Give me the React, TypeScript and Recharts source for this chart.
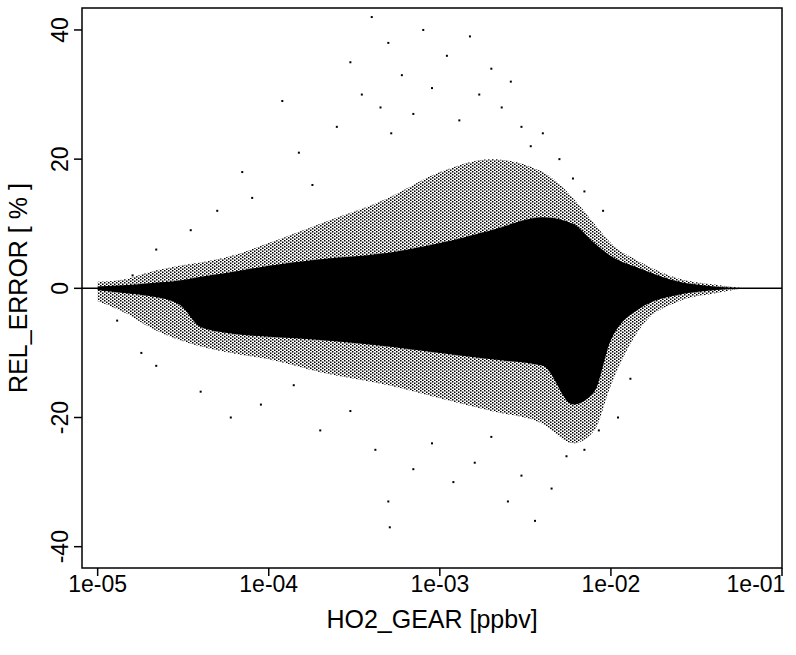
import React from "react";
import {
  ComposedChart, Area, Scatter, XAxis, YAxis, ReferenceLine, Label,
} from "recharts";

const ENV_X = [1.0e-5, 1.5e-5, 2e-5, 3e-5, 4e-5, 6e-5, 1e-4, 2e-4, 5e-4, 1e-3, 2e-3, 4e-3, 6e-3, 8e-3, 1e-2, 1.5e-2, 2.5e-2, 4e-2, 6e-2];
// solid core of the cloud
const CORE_LOW = [-0.3, -0.8, -1.2, -2.5, -6, -7, -7.5, -8, -9, -10, -11, -12, -18, -16, -8, -3, -1, -0.3, 0];
const CORE_HIGH = [0.3, 0.5, 0.8, 1.2, 1.8, 2.5, 3.5, 4.5, 5.5, 7, 9, 11, 10, 7, 5, 3, 1, 0.3, 0];
// speckled halo around the core
const HALO_LOW = [-2, -4, -6, -8, -9, -10, -11, -13, -15, -17, -19, -21, -24, -22, -15, -6, -2, -0.8, 0];
const HALO_HIGH = [1, 1.5, 2.5, 3.5, 4, 5, 7, 10, 14, 18, 20, 18, 14, 10, 7, 4, 1.5, 0.6, 0];

// isolated outliers
const OUT_X = [1.3e-5, 1.8e-5, 2.2e-5, 1.6e-5, 3.5e-5, 5e-5, 7e-5, 8e-5, 1.2e-4, 1.5e-4, 1.8e-4, 2.5e-4, 3e-4, 3.5e-4, 4e-4, 4.5e-4, 5e-4, 5.2e-4, 6e-4, 7e-4, 8e-4, 9e-4, 1.1e-3, 1.3e-3, 1.5e-3, 1.7e-3, 2e-3, 2.3e-3, 2.6e-3, 3e-3, 3.4e-3, 4e-3, 5e-3, 6e-3, 7e-3, 9e-3, 2.2e-5, 4e-5, 6e-5, 9e-5, 1.4e-4, 2e-4, 3e-4, 4.2e-4, 5e-4, 5.1e-4, 7e-4, 9e-4, 1.2e-3, 1.6e-3, 2e-3, 2.5e-3, 3e-3, 3.6e-3, 4.5e-3, 5.5e-3, 7e-3, 8.5e-3, 1.1e-2, 1.3e-2];
const OUT_Y = [-5, -10, 6, 2, 9, 12, 18, 14, 29, 21, 16, 25, 35, 30, 42, 28, 38, 24, 33, 27, 40, 31, 36, 26, 39, 30, 34, 28, 32, 25, 22, 24, 20, 17, 15, 12, -12, -16, -20, -18, -15, -22, -19, -25, -33, -37, -28, -24, -30, -27, -23, -33, -29, -36, -31, -26, -25, -22, -20, -14];

const cloud = ENV_X.map((x, i) => ({
  x,
  core: [CORE_LOW[i], CORE_HIGH[i]],
  halo: [HALO_LOW[i], HALO_HIGH[i]],
}));
const outliers = OUT_X.map((x, i) => ({ x, y: OUT_Y[i] }));

const X_TICKS = [1e-5, 1e-4, 1e-3, 1e-2, 1e-1];
const X_LABELS = ["1e-05", "1e-04", "1e-03", "1e-02", "1e-01"];
const Y_TICKS = [-40, -20, 0, 20, 40];

const FONT = "'Liberation Sans', Arial, sans-serif";

function XTick({ x, y, payload }: any) {
  const i = X_TICKS.indexOf(payload.value);
  // the last label is pulled in so it stays inside the picture
  const dx = i === X_TICKS.length - 1 ? -26 : 0;
  return (
    <text x={x + dx} y={y + 14} textAnchor="middle" fontSize={23} fontFamily={FONT} fill="#000">
      {X_LABELS[i]}
    </text>
  );
}

function YTick({ x, y, payload }: any) {
  return (
    <text x={x - 4} y={y} transform={`rotate(-90 ${x - 4} ${y})`} textAnchor="middle"
      fontSize={23} fontFamily={FONT} fill="#000">
      {payload.value}
    </text>
  );
}

function Dot({ cx, cy }: any) {
  return <rect x={cx - 1} y={cy - 1} width={2} height={2} fill="#000" />;
}

export default function App() {
  return (
    <div style={{ position: "absolute", left: 0, top: 0, background: "#fff" }}>
      <ComposedChart width={796} height={655} data={cloud}
        margin={{ top: 8, right: 14, bottom: 57, left: 0 }}>
        <defs>
          <pattern id="speck" width="4" height="3" patternUnits="userSpaceOnUse">
            <rect x="0" y="0" width="1.5" height="1.5" fill="#000" />
            <rect x="2" y="1.5" width="1.5" height="1.5" fill="#000" />
          </pattern>
        </defs>
        <rect x={82} y={8} width={700} height={560} fill="none" stroke="#000" strokeWidth={1.5} />
        <XAxis dataKey="x" type="number" scale="log" domain={[8.1e-6, 0.1]} height={30}
          ticks={X_TICKS} allowDataOverflow tick={<XTick />} tickSize={8}
          axisLine={false} tickLine={{ stroke: "#000", strokeWidth: 1.5 }}>
          <Label value="HO2_GEAR [ppbv]" position="insideBottom" offset={-30}
            style={{ fontSize: 25, fontFamily: FONT, fill: "#000" }} />
        </XAxis>
        <YAxis type="number" domain={[-43.3, 43.4]} ticks={Y_TICKS} allowDataOverflow
          tick={<YTick />} tickSize={8} width={82}
          axisLine={false} tickLine={{ stroke: "#000", strokeWidth: 1.5 }}>
          <Label value="REL_ERROR [ % ]" angle={-90} position="insideLeft" offset={18}
            style={{ fontSize: 25, fontFamily: FONT, fill: "#000", textAnchor: "middle" }} />
        </YAxis>
        <Area dataKey="halo" type="monotone" fill="url(#speck)" fillOpacity={1}
          stroke="none" isAnimationActive={false} />
        <Area dataKey="core" type="monotone" fill="#000" fillOpacity={1}
          stroke="none" isAnimationActive={false} />
        <Scatter data={outliers} dataKey="y" shape={<Dot />} isAnimationActive={false} />
        <ReferenceLine y={0} stroke="#000" strokeWidth={1.5} />
      </ComposedChart>
    </div>
  );
}
